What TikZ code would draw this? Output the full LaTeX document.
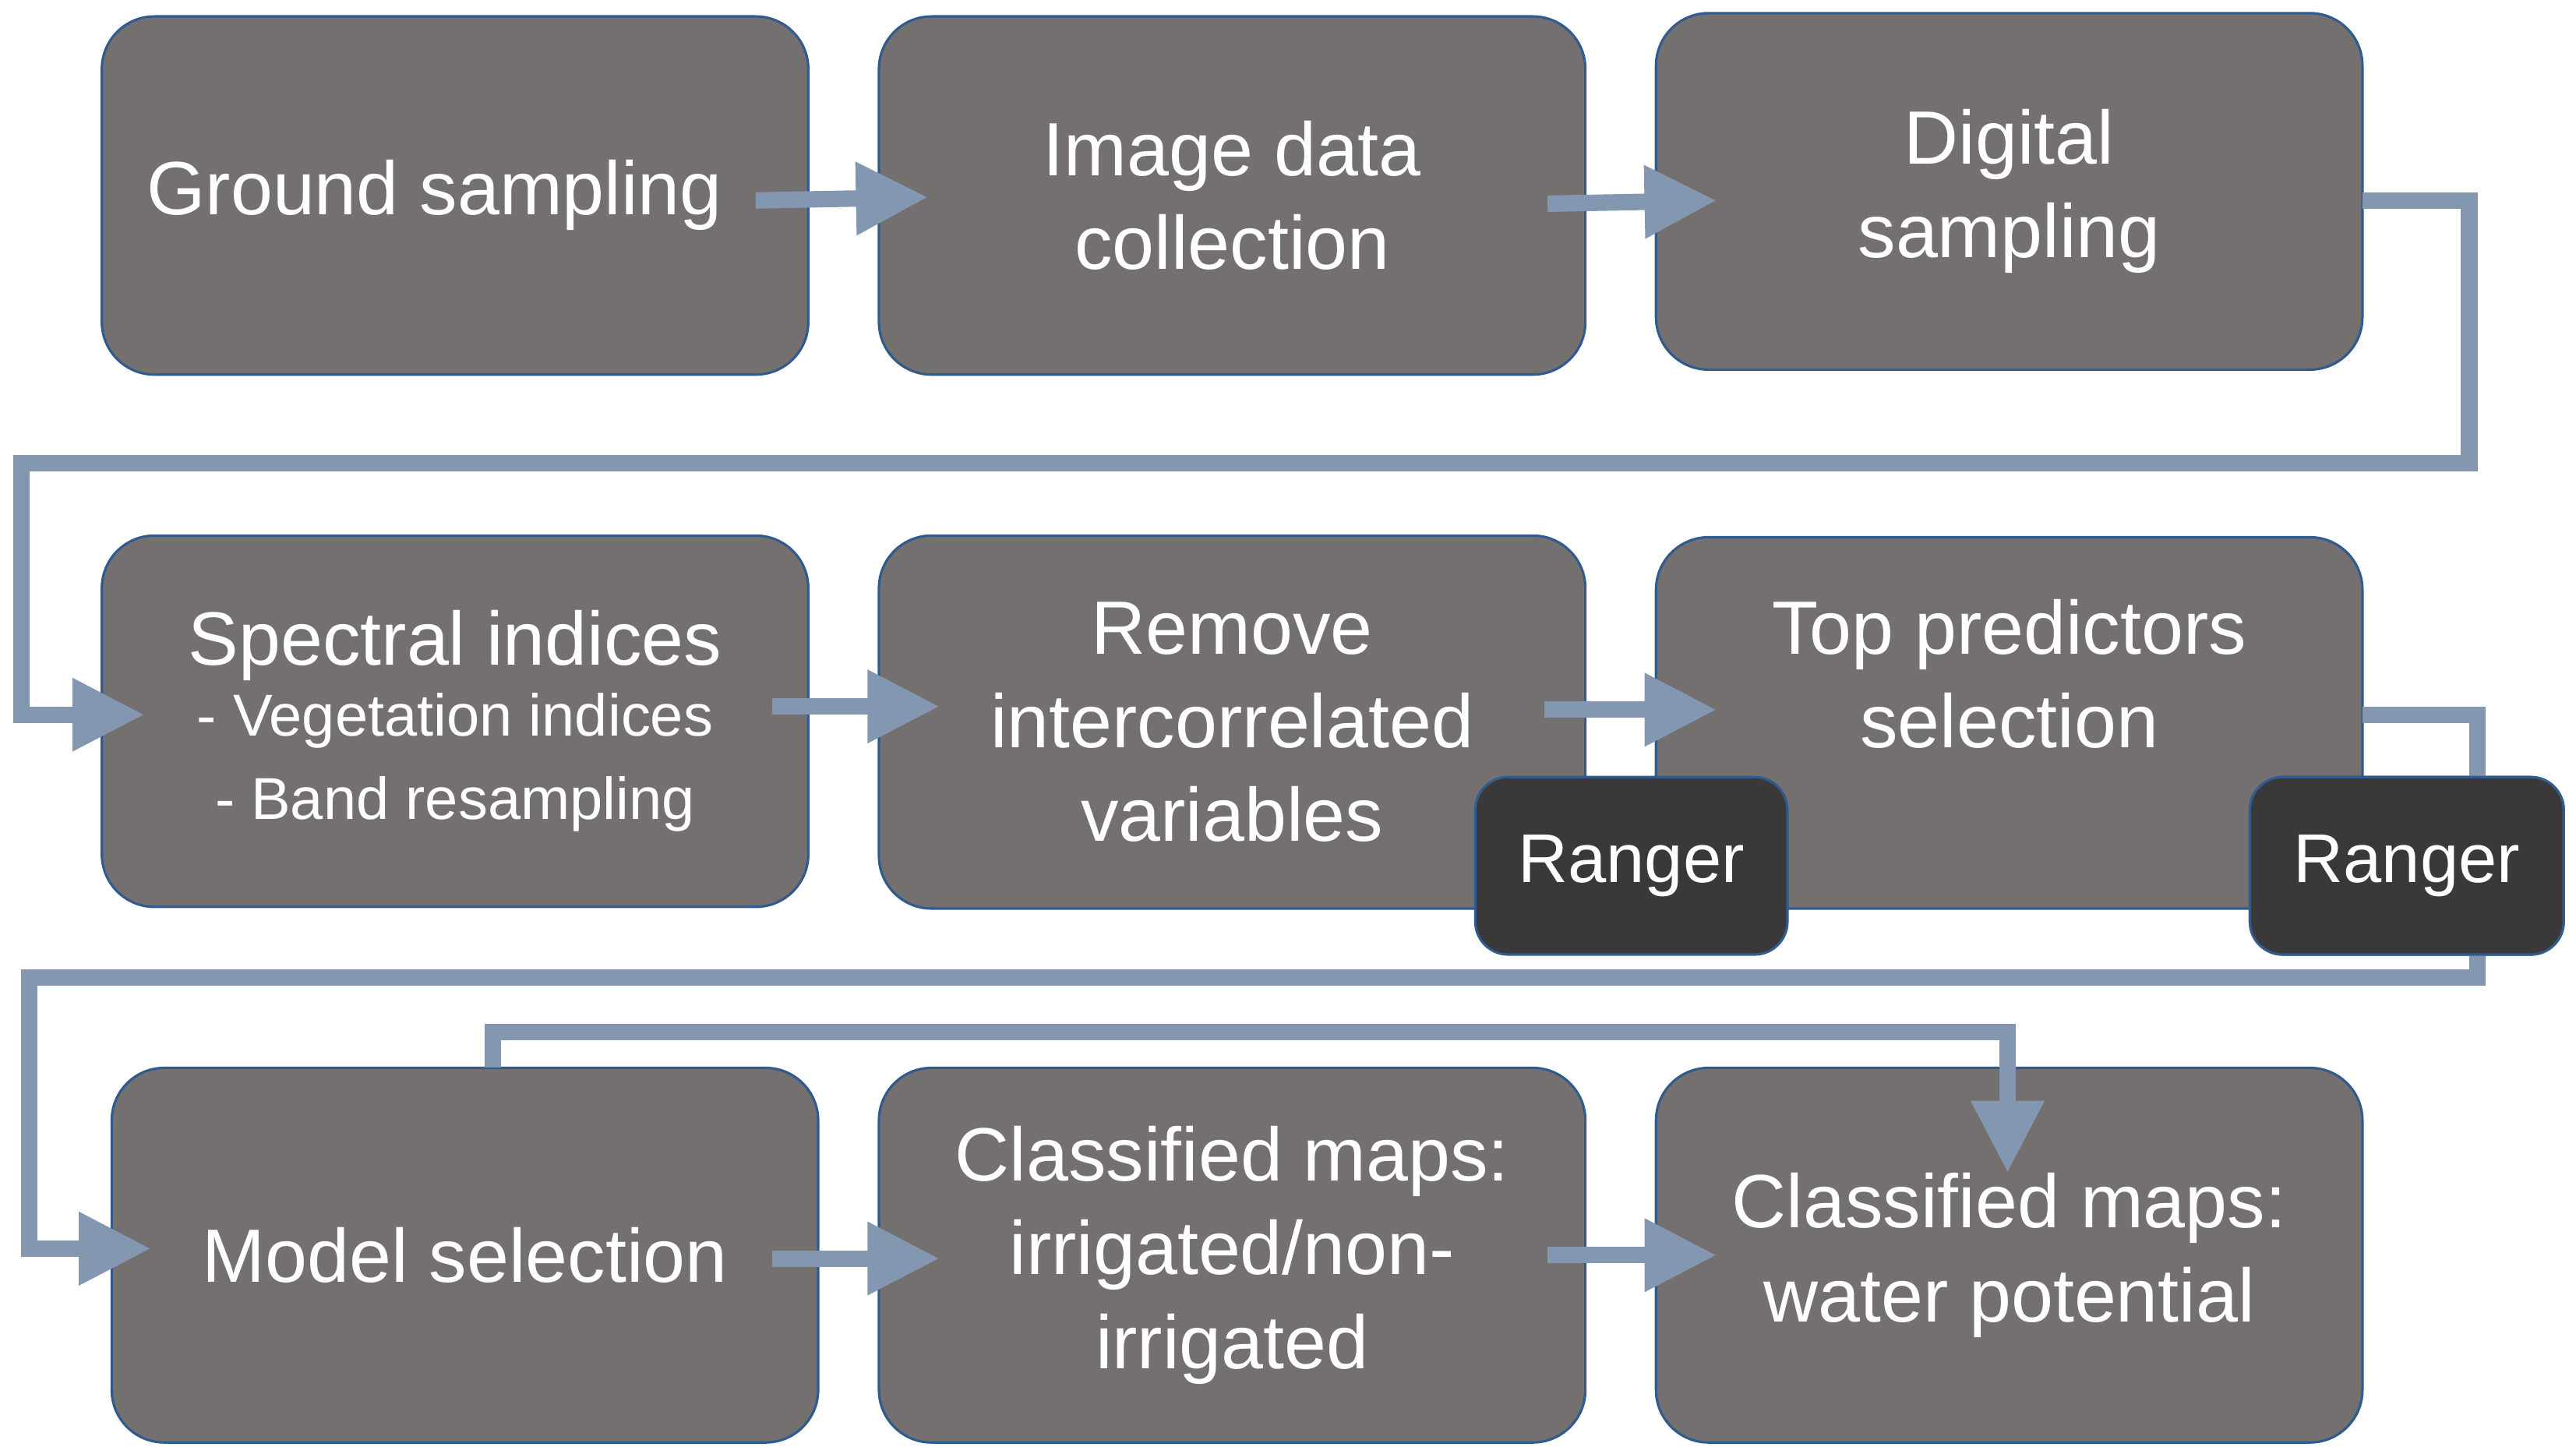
\documentclass[tikz,border=0pt]{standalone}
\usepackage{fontspec}
\setmainfont{Liberation Sans}
\usetikzlibrary{arrows.meta}
\definecolor{boxg}{HTML}{747070}
\definecolor{dark}{HTML}{3A3838}
\definecolor{edge}{HTML}{2F5B8F}
\definecolor{flow}{HTML}{8497B0}
\begin{document}
\begin{tikzpicture}[x=1pt,y=-1pt,
  box/.style={draw=edge,line width=1.5pt,fill=boxg,rounded corners=32pt,text=white,align=center,font=\fontsize{46}{57}\selectfont},
  rng/.style={draw=edge,line width=1.5pt,fill=dark,rounded corners=20pt,text=white,font=\fontsize{42}{50}\selectfont},
  fl/.style={draw=flow,line width=10pt},
  ar/.style={fl,-{Triangle[width=42pt,length=44pt]}}]
\useasboundingbox (0,0) rectangle (1568,885);
\newcommand{\bx}[6]{\node[box,minimum width=#4-#2,minimum height=#5-#3] (#1) at ({(#2+#4)/2},{(#3+#5)/2}) {#6};}
\bx{b1}{62}{10}{492}{228}{\hspace*{-25pt}Ground sampling}
\bx{b2}{535}{10}{965}{228}{Image data\\collection}
\bx{b3}{1008}{8}{1438}{225}{Digital\\sampling}
\node[box,minimum width=430,minimum height=226] (b4) at (277,439) {Spectral indices\\[-14pt]{\fontsize{36}{47}\selectfont - Vegetation indices}\\[-6pt]{\fontsize{36}{47}\selectfont - Band resampling}};
\bx{b5}{535}{326}{965}{553}{Remove\\intercorrelated\\variables}
\node[box,minimum width=430,minimum height=226,text depth=60pt] (b6) at (1223,440) {Top predictors\\selection};
\node[rng,minimum width=190,minimum height=108] (r1) at (993,527) {Ranger};
\node[rng,minimum width=191,minimum height=108] (r2) at (1465,527) {Ranger};
\bx{b7}{68}{650}{498}{878}{Model selection}
\bx{b8}{535}{650}{965}{878}{Classified maps:\\irrigated/non-\\irrigated}
\bx{b9}{1008}{650}{1438}{878}{Classified maps:\\water potential}
% arrows
\coordinate (a1s) at (460,122); \coordinate (a1e) at (565,120);
\draw[ar] (a1s) -- (a1e);
\coordinate (a2s) at (942,124); \coordinate (a2e) at (1045,122);
\draw[ar] (a2s) -- (a2e);
\coordinate (a3s) at (470,430); \coordinate (a3e) at (572,430);
\draw[ar] (a3s) -- (a3e);
\coordinate (a4s) at (940,432); \coordinate (a4e) at (1045,432);
\draw[ar] (a4s) -- (a4e);
\coordinate (a5s) at (470,766); \coordinate (a5e) at (572,766);
\draw[ar] (a5s) -- (a5e);
\coordinate (a6s) at (942,764); \coordinate (a6e) at (1045,764);
\draw[ar] (a6s) -- (a6e);
\coordinate (c1) at (1438,122); \coordinate (c1e) at (88,435);
\draw[ar] (c1) -- (1503,122) -- (1503,282) -- (13,282) -- (13,435) -- (c1e);
\coordinate (c2) at (1438,435); \coordinate (c2e) at (92,760);
\begin{scope}[on background layer/.style={}]
\end{scope}
\draw[ar] (c2) -- (1508,435) -- (1508,595) -- (18,595) -- (18,760) -- (c2e);
\node[rng,minimum width=191,minimum height=108] at (r2) {Ranger};
\coordinate (c3) at (300,650); \coordinate (c3e) at (1222,714);
\draw[ar] (c3) -- (300,628) -- (1222,628) -- (c3e);
\end{tikzpicture}
\end{document}
